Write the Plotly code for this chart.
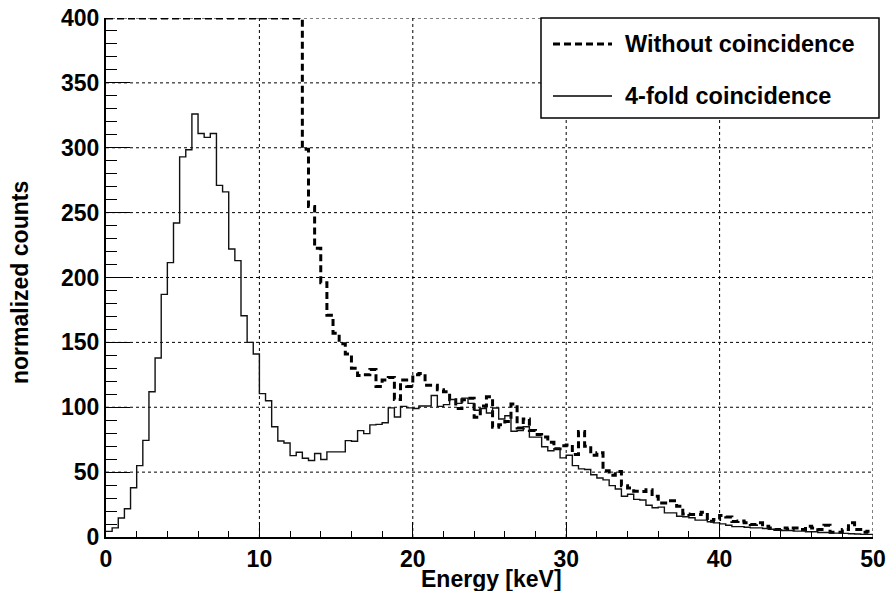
import numpy as np
import plotly.graph_objects as go

# ---- data (bin width 0.4 keV, 0-50 keV, 125 bins) ----
bin_width = 0.4
x_min, x_max = 0.0, 50.0

coinc_4fold = [
    4.3, 7, 14.6, 21.8, 38, 55, 74.5, 112, 138,
    187, 211.5, 242, 293, 298.5, 326, 311, 308, 311, 271, 266, 222, 213,
    170.5, 150, 141, 110.5, 105, 85, 74,
    72.5, 62.7, 65.3, 60.7, 59, 64.3, 59.7, 65.6, 65.6, 65.6,
    74.3, 73.8, 82, 79.7, 86.4, 86.8, 88, 99.5, 92.5, 100.7,
    99.5, 99, 101, 101, 109, 100.7, 102,
    106, 103, 107, 103, 97.7, 99, 95.6, 99.4, 91, 93.5,
    81.5, 82, 85, 77, 77, 69.5, 66.5, 68, 61, 63,
    55, 52.5, 52, 48, 45.5, 44, 39.6, 37, 31.4, 33,
    29, 28.5, 24.5, 22.5, 23, 18.6, 18.6, 16, 15.6, 14.8,
    13, 13, 11.7, 10.9, 10.1, 9, 8, 8, 7.5, 7,
    7, 6.5, 6, 5.5, 5, 5, 4.5, 4.5, 4, 4,
    3.5, 3.5, 3, 3, 2.8, 2.5, 2.3, 2, 2,
]

# first 32 bins are off-scale (drawn clipped at the frame top, 400)
without_coinc = [400] * 32 + [
    298.8, 254.7, 222.6, 196, 171, 157, 149, 141, 130, 124.5,
    125, 129, 116, 121, 123, 106, 121, 116, 125, 126, 117,
    117, 113.5, 112, 105.8, 99, 105.8, 107, 92.3, 101, 108,
    84.6, 86.6, 89, 102.5, 84, 91,
    82, 79, 77, 73, 68, 70.4, 71, 63.5, 81.4, 70, 63, 65, 51, 47.5, 50.5,
    39.5, 37.8, 35.3, 35, 36.5, 31.4, 26.3, 26.3, 28, 23.7, 17.8, 17.3,
    17.3, 19, 12.2, 13.5,
    16.5, 15.5, 12,
    12.3, 11, 9.6, 11, 8.3, 7, 5.8, 7, 5.8, 7, 5.8, 8.3, 7, 5.8, 9,
    3.7, 3.7, 5.8, 11, 5.8, 3.7, 4.5,
]

series_names = ["Without coincidence", "4-fold coincidence"]
x_ticks = [0, 10, 20, 30, 40, 50]
y_ticks = [0, 50, 100, 150, 200, 250, 300, 350, 400]
x_title = "Energy [keV]"
y_title = "normalized counts"

assert len(coinc_4fold) == 125 and len(without_coinc) == 125

edges = np.round(np.arange(x_min, x_max + bin_width / 2, bin_width), 6)


def step_xy(vals):
    xs = list(edges[:-1]) + [edges[-1]]
    ys = list(vals) + [vals[-1]]
    return xs, ys


FONT = "Liberation Sans, Arial, Helvetica, sans-serif"
W, H = 888, 591
L, R, T, B = 106, 15, 18, 54
pw, ph = W - L - R, H - T - B


def px(xp):
    return (xp - L) / pw


def py(yp):
    return (H - B - yp) / ph


fig = go.Figure()
xs, ys = step_xy(without_coinc)
fig.add_trace(go.Scatter(x=xs, y=ys, mode="lines", line_shape="hv",
                         line=dict(color="black", width=3, dash="7px,4px"),
                         name=series_names[0], showlegend=False))
xs, ys = step_xy(coinc_4fold)
fig.add_trace(go.Scatter(x=xs, y=ys, mode="lines", line_shape="hv",
                         line=dict(color="#111111", width=1.4),
                         name=series_names[1], showlegend=False))

axis_common = dict(
    showline=True, linewidth=2, linecolor="black", mirror=False,
    ticks="inside", tickcolor="black", tickwidth=1,
    showgrid=False, zeroline=False, automargin=False,
    tickfont=dict(family=FONT, size=23, color="black", weight="bold"),
)

fig.update_xaxes(range=[x_min, x_max], tickvals=x_ticks, ticklen=15,
                 minor=dict(dtick=2, ticklen=6, ticks="inside", tickcolor="black", showgrid=False),
                 **axis_common)
fig.update_yaxes(range=[0, 400], tickvals=y_ticks, ticklen=24,
                 minor=dict(dtick=10, ticklen=11, ticks="inside", tickcolor="black", showgrid=False),
                 **axis_common)

grid_style = dict(color="black", width=1, dash="dot")
shapes = []
for xv in x_ticks[1:]:
    shapes.append(dict(type="line", xref="x", yref="paper", x0=xv, x1=xv, y0=0, y1=1,
                       line=grid_style, layer="below"))
for yv in y_ticks[1:]:
    shapes.append(dict(type="line", xref="paper", yref="y", x0=0, x1=1, y0=yv, y1=yv,
                       line=grid_style, layer="below"))

shapes += [
    dict(type="rect", xref="paper", yref="paper",
         x0=px(541), x1=px(879), y0=py(118), y1=py(18),
         line=dict(color="black", width=1.5), fillcolor="white", layer="above"),
    dict(type="line", xref="paper", yref="paper",
         x0=px(553), x1=px(612), y0=py(44), y1=py(44),
         line=dict(color="black", width=3, dash="7px,4px"), layer="above"),
    dict(type="line", xref="paper", yref="paper",
         x0=px(553), x1=px(612), y0=py(96), y1=py(96),
         line=dict(color="black", width=1.4), layer="above"),
]

bold = dict(family=FONT, size=23, color="black", weight="bold")
bold_leg = dict(family=FONT, size=23.5, color="black", weight="bold")
annotations = [
    dict(text=series_names[0], xref="paper", yref="paper", x=px(623), y=py(44),
         xanchor="left", yanchor="middle", showarrow=False, font=bold_leg),
    dict(text=series_names[1], xref="paper", yref="paper", x=px(623), y=py(96),
         xanchor="left", yanchor="middle", showarrow=False, font=bold_leg),
    dict(text=x_title, xref="paper", yref="paper", x=px(491), y=py(579),
         xanchor="center", yanchor="middle", showarrow=False, font=bold),
    dict(text=y_title, xref="paper", yref="paper", x=px(20), y=py(283),
         xanchor="center", yanchor="middle", showarrow=False, textangle=-90, font=bold),
]

fig.update_layout(
    width=W, height=H,
    margin=dict(l=L, r=R, t=T, b=B),
    paper_bgcolor="white", plot_bgcolor="white",
    showlegend=False,
    shapes=shapes, annotations=annotations,
)

fig.write_html("out.html")
